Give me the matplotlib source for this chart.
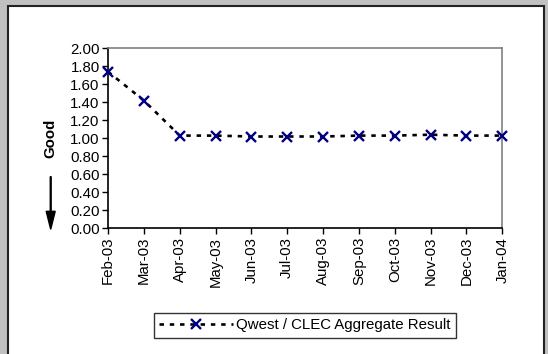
import matplotlib
matplotlib.use("Agg")
import matplotlib.pyplot as plt
from matplotlib.patches import Rectangle, FancyArrow

plt.rcParams['font.family'] = ['Liberation Sans', 'DejaVu Sans']
plt.rcParams['lines.scale_dashes'] = False

months = ["Feb-03", "Mar-03", "Apr-03", "May-03", "Jun-03", "Jul-03",
          "Aug-03", "Sep-03", "Oct-03", "Nov-03", "Dec-03", "Jan-04"]
values = [1.74, 1.42, 1.03, 1.03, 1.02, 1.02, 1.02, 1.03, 1.03, 1.04, 1.03, 1.03]
yticks = [0.0, 0.2, 0.4, 0.6, 0.8, 1.0, 1.2, 1.4, 1.6, 1.8, 2.0]
series_label = "Qwest / CLEC Aggregate Result"

FS = 10.8
W, H = 548, 354
fig = plt.figure(figsize=(W / 100, H / 100), dpi=100)
fig.patch.set_facecolor('#c0c0c0')
fig.patches.append(Rectangle((7.8 / W, -5 / H), (543.5 - 7.8) / W, (H + 5 - 5.8) / H,
                             transform=fig.transFigure, facecolor='white',
                             edgecolor='#222222', linewidth=1.5, zorder=-5))

ax = fig.add_axes([108 / W, 1 - 228.3 / H, (502.3 - 108) / W, (228.3 - 48.3) / H])
ax.set_facecolor('white')
x = list(range(len(months)))
line, = ax.plot(x, values, color='black', linewidth=1.9, dashes=(3.2, 4.2),
                marker='x', markersize=7.8, markeredgewidth=1.7,
                markeredgecolor='#000080', clip_on=False, zorder=3,
                label=series_label)
ax.set_xlim(0, len(months) - 1)
ax.set_ylim(0, 2.0)
ax.set_yticks(yticks)
ax.set_yticklabels([f"{v:.2f}" for v in yticks], fontsize=FS)
ax.set_xticks(x)
ax.set_xticklabels(months, rotation=90, fontsize=FS)
ax.tick_params(axis='both', direction='out', length=4, width=1, color='black', pad=2)
ax.spines['left'].set_color('black')
ax.spines['bottom'].set_color('black')
ax.spines['top'].set_color('#808080')
ax.spines['right'].set_color('#808080')
for s in ax.spines.values():
    s.set_linewidth(1.2)

fig.text(50 / W, 1 - 138.5 / H, "Good", rotation=90, ha='center', va='center',
         fontsize=FS, fontweight='bold')
fig.patches.append(FancyArrow(50.7 / W, 1 - 176.7 / H, 0, -(52.6 / H), width=0.9 / W,
                              head_width=9 / W, head_length=18 / H,
                              length_includes_head=True, transform=fig.transFigure,
                              color='black'))

leg = fig.legend(handles=[line], loc='center', bbox_to_anchor=(305 / W, 1 - 325.5 / H),
                 fontsize=FS, frameon=True, fancybox=False, handlelength=4.9,
                 borderpad=0.35, handletextpad=0.25, borderaxespad=0)
leg.get_frame().set_edgecolor('black')
leg.get_frame().set_linewidth(1.0)

fig.savefig("out.png", dpi=100, facecolor=fig.get_facecolor())
